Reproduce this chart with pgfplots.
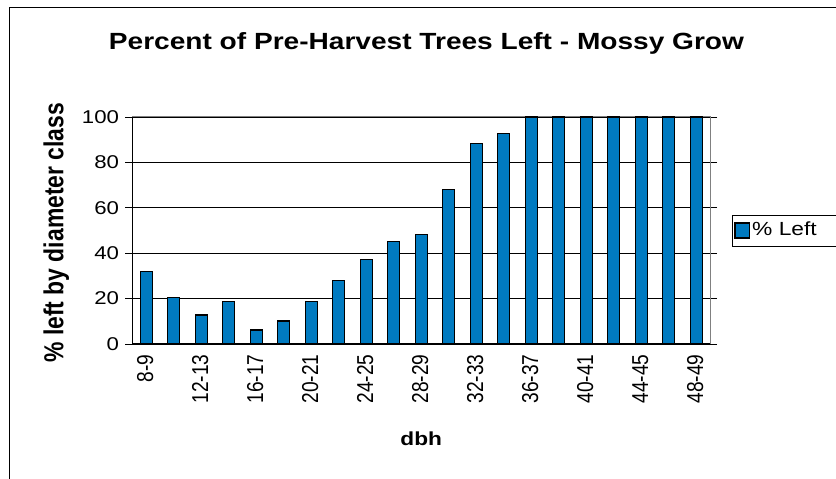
\documentclass[border=0pt]{standalone}
\usepackage{pgfplots}
\pgfplotsset{compat=1.18}
\usepackage{fontspec}
\setmainfont{Liberation Sans}[FakeStretch=1.2]
\newfontfamily\rotfont{Liberation Sans}[FakeStretch=0.8333]
\definecolor{barblue}{RGB}{0,122,192}
\begin{document}
\begin{tikzpicture}
\useasboundingbox (0pt,0pt) rectangle (836pt,479pt);
\draw[black, line width=1pt] (9.3pt,-2pt) -- (9.3pt,471pt) -- (840pt,471pt);
\node[font=\fontsize{23.4}{26}\selectfont\bfseries, anchor=base] at (426.5pt,429.7pt) {Percent of Pre-Harvest Trees Left - Mossy Grow};
\begin{axis}[
  at={(132.5pt,135pt)}, anchor=south west,
  scale only axis, width=577.5pt, height=227pt,
  xmin=-0.5, xmax=20.5, ymin=0, ymax=100,
  ytick={0,20,...,100},
  xtick={0,2,...,20},
  xticklabels={8-9,12-13,16-17,20-21,24-25,28-29,32-33,36-37,40-41,44-45,48-49},
  extra x ticks={-0.5,0.5,...,20.5},
  extra x tick labels={},
  extra x tick style={major tick length=7pt, tick style={black, line width=0.8pt}},
  xtick style={draw=none},
  ytick style={black, line width=0.8pt},
  major tick length=7pt,
  tick align=outside,
  axis line style={gray, line width=1pt},
  ymajorgrids, grid style={black, line width=0.7pt},
  yticklabel style={font=\fontsize{18.5}{20}\selectfont, /pgf/number format/assume math mode=true, xshift=-3pt},
  xticklabel style={font=\rotfont\fontsize{23}{24}\selectfont, rotate=90, anchor=east, yshift=1pt},
  xlabel={dbh}, xlabel style={font=\fontsize{18.9}{20}\selectfont\bfseries, at={(axis description cs:0.5,-0.449)}, anchor=base},
  ylabel={\% left by diameter class}, ylabel style={font=\rotfont\fontsize{27.5}{28}\selectfont\bfseries, at={(axis description cs:-0.132,0.49)}, anchor=center},
  legend style={at={(axis description cs:1.0376,0.5)}, anchor=west, draw=black, line width=0.8pt, font=\fontsize{19}{20}\selectfont, inner xsep=2pt, inner ysep=3pt, cells={anchor=west}, nodes={inner sep=2pt, text height=16pt, text depth=5pt}},
  legend image code/.code={\draw[#1, line width=1.5pt] (0.7pt,-7.3pt) rectangle (15.3pt,7.3pt);},
  clip=false,
]
\addplot[ybar, bar width=12pt, fill=barblue, draw=black, line width=1.3pt] coordinates {
(0,31.8) (1,20.5) (2,12.8) (3,18.6) (4,6.2) (5,10.1) (6,18.6) (7,27.9) (8,37.2) (9,45) (10,48.2)
(11,68) (12,88.3) (13,92.7) (14,100) (15,100) (16,100) (17,100) (18,100) (19,100) (20,100)};
\addlegendentry{\% Left\rule{30pt}{0pt}}
\draw[black, line width=1pt] (rel axis cs:0,1) -- (rel axis cs:0,0) -- (rel axis cs:1,0);
\end{axis}
\end{tikzpicture}
\end{document}
